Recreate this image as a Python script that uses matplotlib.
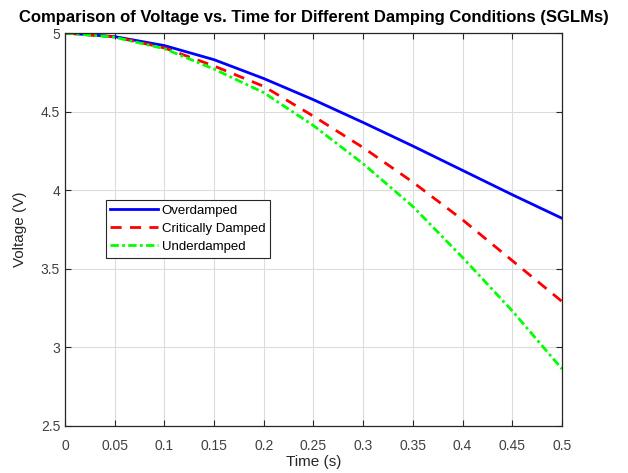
import matplotlib.pyplot as plt

plt.rcParams['font.family'] = ['Liberation Sans', 'DejaVu Sans']

time_s = [0, 0.05, 0.1, 0.15, 0.2, 0.25, 0.3, 0.35, 0.4, 0.45, 0.5]
overdamped = [5, 4.977, 4.92, 4.83, 4.71, 4.575, 4.43, 4.28, 4.125, 3.97, 3.82]
critically_damped = [5, 4.975, 4.905, 4.79, 4.66, 4.47, 4.27, 4.05, 3.81, 3.55, 3.29]
underdamped = [5, 4.973, 4.90, 4.77, 4.62, 4.41, 4.167, 3.895, 3.57, 3.23, 2.86]

x_ticks = [0, 0.05, 0.1, 0.15, 0.2, 0.25, 0.3, 0.35, 0.4, 0.45, 0.5]
x_tick_labels = ['0', '0.05', '0.1', '0.15', '0.2', '0.25', '0.3', '0.35', '0.4', '0.45', '0.5']
y_ticks = [2.5, 3, 3.5, 4, 4.5, 5]
y_tick_labels = ['2.5', '3', '3.5', '4', '4.5', '5']

fig = plt.figure(figsize=(6.28, 4.73), dpi=100)
ax = fig.add_axes([0.1035, 0.1004, 0.7914, 0.8298])

ax.plot(time_s, overdamped, color='#0000ff', linestyle='-', linewidth=2, label='Overdamped')
ax.plot(time_s, critically_damped, color='#ff0000', linestyle=(0, (4, 3)), linewidth=2,
        label='Critically Damped')
ax.plot(time_s, underdamped, color='#00ff00', linestyle=(0, (3, 1.2, 1, 1.2)), linewidth=2,
        label='Underdamped')

ax.set_xlim(0, 0.5)
ax.set_ylim(2.5, 5)
ax.set_xticks(x_ticks, x_tick_labels)
ax.set_yticks(y_ticks, y_tick_labels)
ax.grid(True, color='#dcdcdc', linewidth=0.8)
ax.set_axisbelow(True)
ax.tick_params(direction='in', top=True, right=True, length=4, labelsize=10,
               colors='#262626', labelcolor='#404040')
ax.tick_params(axis='x', pad=10)
for spine in ax.spines.values():
    spine.set_color('#262626')
    spine.set_linewidth(0.9)

ax.set_xlabel('Time (s)', fontsize=11, color='#262626', labelpad=1)
ax.set_ylabel('Voltage (V)', fontsize=11, color='#262626', labelpad=10)
ax.set_title('Comparison of Voltage vs. Time for Different Damping Conditions (SGLMs)',
             fontsize=12, fontweight='bold', pad=8)

leg = ax.legend(loc='lower left', bbox_to_anchor=(0.082, 0.428), fontsize=9.5,
                fancybox=False, framealpha=1, edgecolor='#262626', borderpad=0.35,
                handlelength=3.6, handletextpad=0.3, labelspacing=0.45, borderaxespad=0)
leg.get_frame().set_linewidth(0.8)

fig.savefig('out.png', dpi=100)
